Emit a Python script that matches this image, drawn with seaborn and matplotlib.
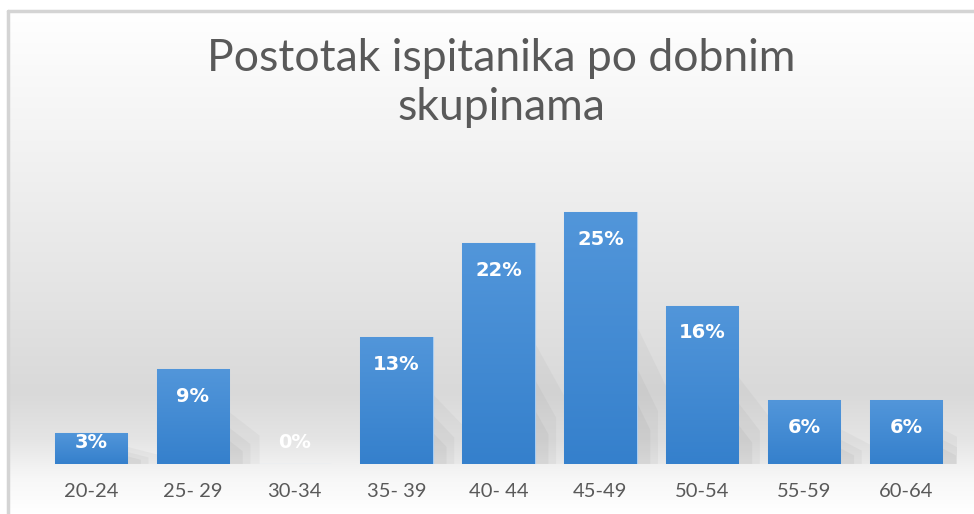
import matplotlib
matplotlib.use('Agg')
import matplotlib.pyplot as plt
from matplotlib.colors import LinearSegmentedColormap
import seaborn as sns
import numpy as np
import pandas as pd

# Podaci: postotak ispitanika po dobnim skupinama (ocitano sa slike)
skupine = ['20-24', '25- 29', '30-34', '35- 39', '40- 44',
           '45-49', '50-54', '55-59', '60-64']
postotak = [3.1, 9.4, 0.0, 12.6, 21.9, 25.0, 15.7, 6.3, 6.3]
naslov = 'Postotak ispitanika po dobnim\nskupinama'

df = pd.DataFrame({'skupina': skupine, 'postotak': postotak})

sns.set_theme(style='white')
plt.rcParams['font.family'] = ['Lato', 'DejaVu Sans']

W, H = 974, 514
fig = plt.figure(figsize=(W / 100, H / 100), dpi=100)
fig.patch.set_facecolor('white')

# pozadina s gradijentom (bijelo -> sivo -> bijelo)
bg = fig.add_axes([8 / W, 0, 1 - 8 / W, 1 - 10 / H], zorder=0)
stops = [(0.0, '#ffffff'), (0.28, '#f2f2f2'), (0.58, '#e3e3e3'),
         (0.76, '#d9d9d9'), (0.85, '#e4e4e4'), (0.93, '#f7f7f7'), (1.0, '#ffffff')]
bg_cmap = LinearSegmentedColormap.from_list('bg', stops)
bg.imshow(np.linspace(0, 1, 256).reshape(-1, 1), aspect='auto', cmap=bg_cmap,
          extent=[0, 1, 0, 1], origin='upper')
bg.set_axis_off()
# okvir
fig.add_artist(plt.Line2D([8 / W, 1], [1 - 11 / H, 1 - 11 / H], color='#d4d4d4', lw=2.5))
fig.add_artist(plt.Line2D([8 / W, 8 / W], [0, 1 - 11 / H], color='#d4d4d4', lw=2.5))

ax = fig.add_axes([40 / W, 50 / H, 917 / W, 302.4 / H], zorder=1)
ax.patch.set_alpha(0)
sns.barplot(data=df, x='skupina', y='postotak', color='#3f8ad6', width=0.71,
            edgecolor='#a9cdf2', linewidth=0.8, ax=ax)
ax.set_ylim(0, 30)

# gradijent na stupcima i meka sjena desno
bar_cmap = LinearSegmentedColormap.from_list('bar', ['#3580cc', '#5296da'])
grad = np.linspace(0, 1, 100).reshape(-1, 1)
for p in ax.patches:
    x0, w, h = p.get_x(), p.get_width(), p.get_height()
    if h <= 0:
        continue
    im = ax.imshow(grad, aspect='auto', cmap=bar_cmap, origin='lower',
                   extent=[x0, x0 + w, 0, h], zorder=p.get_zorder() + 0.1)
    im.set_clip_path(p)
    for k, a in zip([1.0, 0.7, 0.45], [0.07, 0.08, 0.09]):
        ax.fill([x0 + w, x0 + w + 0.3 * k, x0 + w + 0.3 * k, x0 + w],
                [h * 0.55 * k, h * 0.3 * k, 0, 0], color='#808080', alpha=a,
                lw=0, zorder=p.get_zorder() - 0.1)
ax.set_xlim(-0.5, len(skupine) - 0.5)
ax.set_ylim(0, 30)

# oznake vrijednosti
for i, v in enumerate(postotak):
    ax.text(i, max(v - 2.7, 2.1), f'{round(v):.0f}%', ha='center', va='center',
            color='white', fontsize=14, fontweight='bold', family='DejaVu Sans',
            zorder=5)

ax.set_xlabel('')
ax.set_ylabel('')
ax.set_yticks([])
ax.tick_params(axis='x', length=0, pad=14, labelsize=14.5, labelcolor='#595959')
for s in ax.spines.values():
    s.set_visible(False)

fig.text(501 / W, 1 - 83 / H, naslov, ha='center', va='center', fontsize=32,
         color='#595959', linespacing=1.22)

fig.savefig('out.png', dpi=100)
